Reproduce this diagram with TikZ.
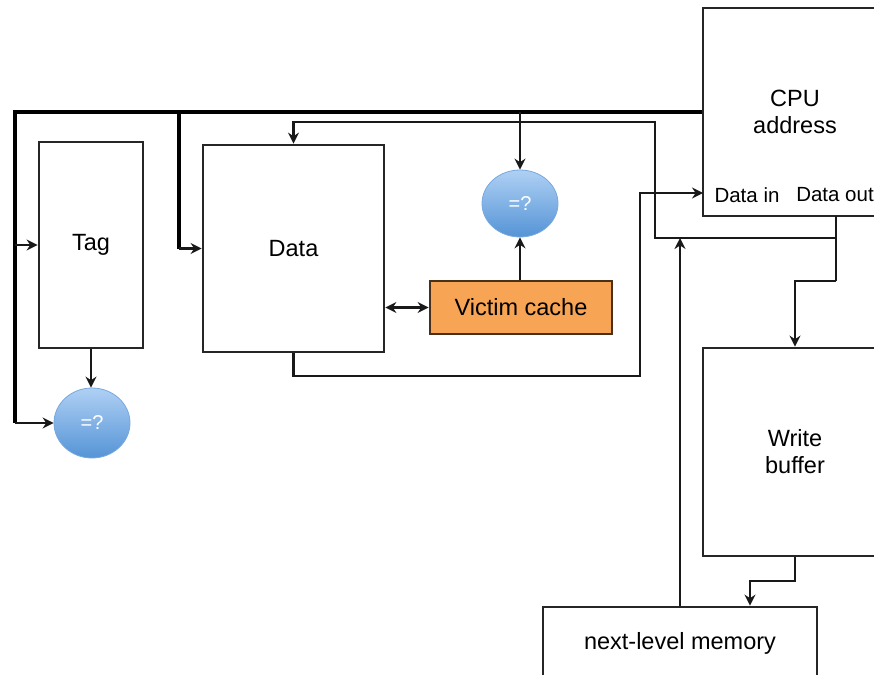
\documentclass[tikz,border=0pt]{standalone}
\usepackage{fontspec}
\setmainfont{Liberation Sans}
\usetikzlibrary{arrows.meta,shapes.geometric}
\definecolor{vic}{HTML}{F7A554}
\definecolor{vicb}{HTML}{4A3018}
\definecolor{eqtop}{HTML}{AFD0F4}
\definecolor{eqbot}{HTML}{5594D6}
\tikzset{
  box/.style={draw=black!85,line width=2.8pt,inner sep=0pt,fill=white,align=center,font=\fontsize{23.5}{27}\selectfont},
  eqnode/.style={ellipse,inner sep=0pt,top color=eqtop,bottom color=eqbot,draw=eqbot!80!white,line width=0.8pt,text=white,font=\fontsize{20}{24}\selectfont},
  lbl/.style={inner sep=0pt,font=\fontsize{20.5}{24}\selectfont},
  bus/.style={line width=4.4pt,black},
  conn/.style={line width=2.7pt,black!90},
  arr/.style={conn,-{Stealth[length=11pt,width=11pt]}},
  arr2/.style={conn,{Stealth[length=11pt,width=11pt]}-{Stealth[length=11pt,width=11pt]}},
}
\begin{document}
\begin{tikzpicture}[x=1pt,y=-1pt]
\useasboundingbox (0,0) rectangle (874,674);
\clip (0,0) rectangle (874,674);
% boxes
\node[box,minimum width=104,minimum height=206] (tag) at (91,245) {Tag};
\node[box,minimum width=181,minimum height=207] (data) at (293.5,248.5) {Data};
\node[box,fill=vic,draw=vicb,minimum width=182,minimum height=53] (victim) at (521,307.5) {Victim cache};
\node[box,minimum width=184,minimum height=208] (cpu) at (795,112) {CPU\\address};
\node[box,minimum width=184,minimum height=208] (wb) at (795,452) {Write\\buffer};
\node[box,minimum width=274,minimum height=72] (mem) at (680,643) {next-level memory};
\node[eqnode,minimum width=76,minimum height=67] (eqB) at (520,203.5) {=?};
\node[eqnode,minimum width=76,minimum height=70] (eqA) at (92,423) {=?};
\node[lbl] (din) at (747,195) {Data in};
\node[lbl] (dout) at (835,195) {Data out};
% coordinates
\coordinate (busL) at (15,112);
\coordinate (busM) at (179,112);
\coordinate (cpuIn) at (703,193);
\coordinate (inX) at (640,376);
\coordinate (doTop) at (836,216);
\coordinate (doJ) at (836,238);
\coordinate (doK) at (836,281);
\coordinate (fbR) at (655,238);
\coordinate (fbT) at (655,122);
\coordinate (wbK) at (750,581);
% bus
\draw[bus] (cpu.west) -- (busL) -- (busL |- eqA.west);
\draw[bus] (busM) -- (busM |- data.west);
\draw[arr] (busL |- tag.west) -- (tag.west);
\draw[arr] (busL |- eqA.west) -- (eqA.west);
\draw[arr] (busM |- data.west) -- (data.west);
\draw[arr] (eqB.north |- busL) -- (eqB.north);
% tag compare
\draw[arr] (tag.south) -- (tag.south |- eqA.north);
% victim
\draw[arr2] (data.east |- victim.west) -- (victim.west);
\draw[arr] (victim.north -| eqB.south) -- (eqB.south);
% data out
\draw[conn] (doTop) -- (doK);
\draw[arr] (doK) -| (wb.north);
\draw[arr] (doJ) -- (fbR) -- (fbT) -| (data.north);
% memory to cpu data line
\draw[arr] (mem.north) -- (mem.north |- doJ);
% data to cpu data in
\draw[arr] (data.south) |- (inX) |- (cpuIn);
% write buffer to memory
\draw[arr] (wb.south) |- (wbK) -- (wbK |- mem.north);
\end{tikzpicture}
\end{document}
